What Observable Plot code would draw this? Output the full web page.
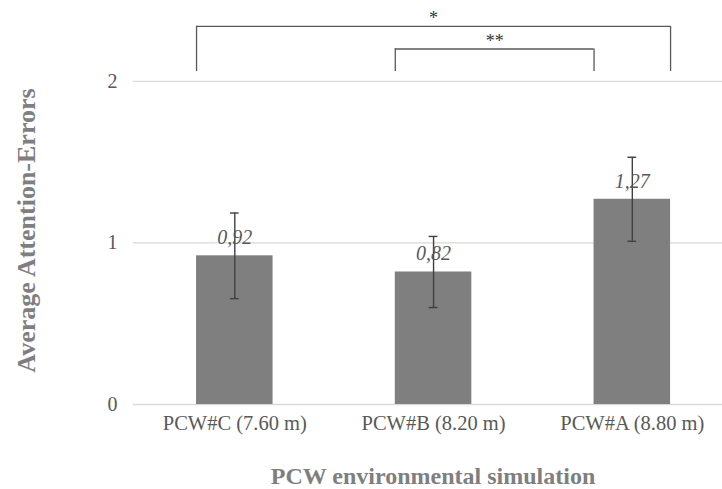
<!DOCTYPE html>
<html><head><meta charset="utf-8">
<script src="https://cdn.jsdelivr.net/npm/d3@7"></script>
<script src="https://cdn.jsdelivr.net/npm/@observablehq/plot@0.6"></script>
<style>body{margin:0;background:#fff}</style>
</head><body><div id="chart"></div>
<script>
const categories = ["PCW#C (7.60 m)", "PCW#B (8.20 m)", "PCW#A (8.80 m)"];
const means = [0.92, 0.82, 1.27];
const errors = [0.265, 0.22, 0.26];
const valueLabels = ["0,92", "0,82", "1,27"];
const yTicks = [0, 1, 2];
const compFrom = [0, 1];
const compFromSide = [-1, -1];
const compTo = [2, 2];
const compToSide = [1, -1];
const compLevel = [2.34, 2.20];
const compLabel = ["*", "**"];
const bracketFoot = 2.06;
const xTitle = "PCW environmental simulation";
const yTitle = "Average Attention-Errors";

const BAR_HALF = 0.1925, CAP_HALF = 0.022;
const data = categories.map((c, i) => ({i, cat: c, mean: means[i], err: errors[i], label: valueLabels[i]}));
const brackets = compFrom.map((f, k) => ({
  x1: f + compFromSide[k] * BAR_HALF,
  x2: compTo[k] + compToSide[k] * BAR_HALF,
  level: compLevel[k], label: compLabel[k]
}));
const legs = brackets.flatMap(b => [{x: b.x1, top: b.level}, {x: b.x2, top: b.level}]);
const caps = data.flatMap(d => [{i: d.i, v: d.mean - d.err}, {i: d.i, v: d.mean + d.err}]);

const FONT = "'Liberation Serif', 'Times New Roman', serif";
const chart = Plot.plot({
  width: 722, height: 489,
  marginLeft: 133, marginRight: 0, marginTop: 0, marginBottom: 85,
  style: {fontFamily: FONT, fontSize: "20px", color: "#595959", background: "white"},
  x: {type: "linear", domain: [-0.5097, 2.4538]},
  y: {domain: [0, 2.5]},
  marks: [
    Plot.ruleY(yTicks, {stroke: "#d9d9d9", strokeWidth: 1.3}),
    Plot.rectY(data, {x1: d => d.i - BAR_HALF, x2: d => d.i + BAR_HALF, y: "mean", fill: "#7f7f7f"}),
    Plot.ruleX(data, {x: "i", y1: d => d.mean - d.err, y2: d => d.mean + d.err, stroke: "#404040", strokeWidth: 1.4}),
    Plot.ruleY(caps, {y: "v", x1: d => d.i - CAP_HALF, x2: d => d.i + CAP_HALF, stroke: "#404040", strokeWidth: 1.4}),
    Plot.text(data, {x: "i", y: "mean", text: "label", dy: -18, lineAnchor: "middle", fontStyle: "italic", fontSize: 20, fill: "#595959"}),
    Plot.ruleY(brackets, {y: "level", x1: "x1", x2: "x2", stroke: "#595959", strokeWidth: 1.3}),
    Plot.ruleX(legs, {x: "x", y1: () => bracketFoot, y2: "top", stroke: "#595959", strokeWidth: 1.3}),
    Plot.text(brackets, {x: d => (d.x1 + d.x2) / 2, y: "level", text: "label", lineAnchor: "bottom", dy: -2, fontSize: 18, fill: "#333"}),
    Plot.axisY({ticks: yTicks, tickFormat: d => String(d), tickSize: 0, tickPadding: 16, fontSize: 20, fill: "#595959", label: null}),
    Plot.axisX({ticks: [0, 1, 2], tickFormat: i => categories[i], tickSize: 0, tickPadding: 11, fontSize: 20.5, fill: "#595959", label: null}),
    Plot.text([xTitle], {frameAnchor: "bottom", text: d => d, dx: 5, dy: 72, lineAnchor: "middle", fontSize: 24, fontWeight: "bold", fill: "#7f7f7f"}),
    Plot.text([yTitle], {frameAnchor: "left", text: d => d, textAnchor: "middle", dx: -107, dy: 28, rotate: -90, lineAnchor: "middle", fontSize: 26, fontWeight: "bold", fill: "#7f7f7f"})
  ]
});
document.getElementById("chart").appendChild(chart);
</script>
</body></html>
